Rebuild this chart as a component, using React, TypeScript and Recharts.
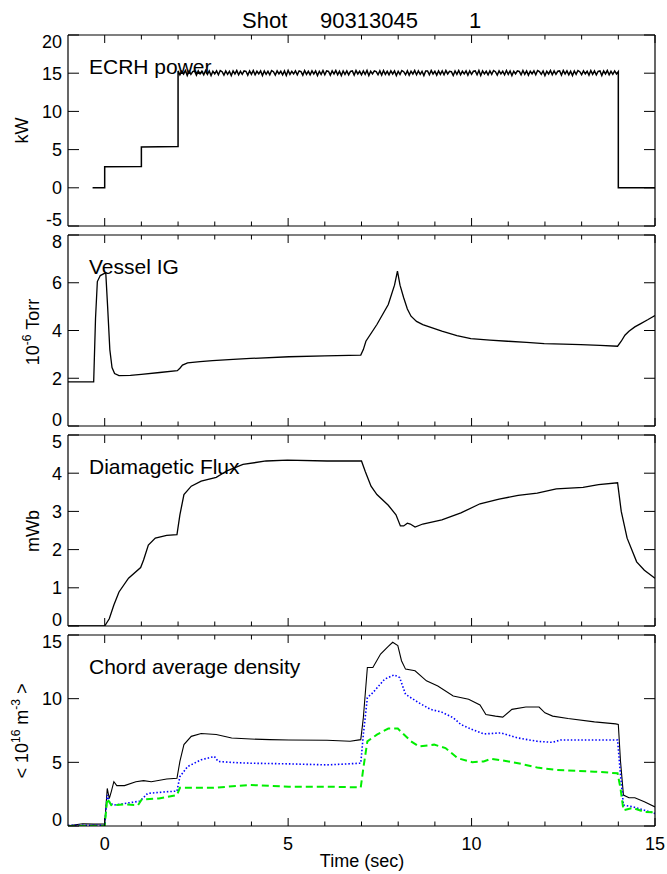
import React from "react";
import { LineChart, Line, XAxis, YAxis } from "recharts";

const FONT = "'Liberation Sans', Arial, Helvetica, sans-serif";

// ---------- data ----------
const xTicks = [0, 1, 2, 3, 4, 5, 6, 7, 8, 9, 10, 11, 12, 13, 14, 15];

const ecrhTicks = [-5, 0, 5, 10, 15, 20];
const igTicks = [0, 2, 4, 6, 8];
const fluxTicks = [0, 1, 2, 3, 4, 5];
const densTicks = [0, 5, 10, 15];

// ECRH power steps before flat top [t, kW]
const ecrhRampUp: [number, number][] = [
  [-0.33, 0], [0, 0], [0, 2.75], [1, 2.8], [1, 5.35], [2, 5.4],
];
// flat top noise samples from t = 2.00 to 14.00, every 0.05 s
const ecrhFlatStart = 2;
const ecrhFlatStep = 0.05;
const ecrhFlat: number[] = [
  15.3,14.8,15.25,14.9,15.35,14.7,15.3,14.85,15.2,15.3,14.75,15.3,14.9,15.25,14.8,15.35,14.85,15.3,14.7,15.25,
  14.9,15.3,14.8,15.35,15.2,14.75,15.3,14.85,15.25,14.7,15.3,14.9,15.35,14.8,15.25,14.85,15.3,15.25,14.75,15.3,
  14.85,15.35,14.8,15.25,14.9,15.3,14.7,15.3,14.85,15.25,14.8,15.35,15.2,14.75,15.3,14.9,15.25,14.8,15.3,14.7,
  15.35,14.85,15.25,14.9,15.3,14.8,15.3,15.2,14.75,15.35,14.85,15.25,14.8,15.3,14.9,15.3,14.7,15.25,14.85,15.35,
  14.8,15.3,15.25,14.75,15.3,14.9,15.35,14.8,15.25,14.7,15.3,14.85,15.3,14.8,15.25,15.3,14.75,15.35,14.9,15.25,
  14.8,15.3,14.85,15.35,14.7,15.25,14.9,15.3,15.2,14.8,15.3,14.75,15.35,14.85,15.25,14.8,15.3,14.9,15.3,14.7,
  15.25,14.85,15.35,15.2,14.8,15.3,14.75,15.25,14.9,15.35,14.8,15.3,14.85,15.25,14.7,15.3,15.3,14.8,15.35,14.9,
  15.25,14.75,15.3,14.85,15.3,14.8,15.35,14.9,15.25,15.2,14.7,15.3,14.85,15.35,14.8,15.25,14.9,15.3,14.75,15.3,
  14.85,15.25,15.3,14.8,15.35,14.7,15.3,14.9,15.25,14.8,15.3,14.85,15.35,15.2,14.75,15.3,14.9,15.25,14.8,15.35,
  14.85,15.3,14.7,15.25,14.9,15.3,15.25,14.8,15.35,14.85,15.3,14.75,15.25,14.9,15.3,14.8,15.35,15.2,14.85,15.3,
  14.7,15.25,14.9,15.35,14.8,15.3,14.85,15.25,15.3,14.75,15.35,14.9,15.3,14.8,15.25,14.7,15.3,14.85,15.35,15.2,
  14.8,15.3,14.9,15.25,14.75,15.35,14.85,15.3,14.8,15.25,15.3,14.7,15.3,14.9,15.35,14.8,15.25,14.85,15.3,14.9,
  15.2,
];
const ecrhRampDown: [number, number][] = [[14, 0], [15, 0]];

// Vessel ion gauge [t, 1e-6 Torr]
const vesselIG: [number, number][] = [
  [-1, 1.85], [-0.3, 1.85], [-0.25, 4.5], [-0.2, 6.05], [-0.12, 6.3], [-0.02, 6.38], [0.03, 6.4],
  [0.08, 5.0], [0.14, 3.2], [0.2, 2.45], [0.27, 2.2], [0.39, 2.11], [0.7, 2.12], [1.0, 2.16],
  [1.5, 2.24], [1.98, 2.32], [2.05, 2.42], [2.12, 2.55], [2.26, 2.64], [2.6, 2.7], [2.94, 2.74],
  [3.5, 2.79], [3.98, 2.83], [5.02, 2.9], [6, 2.94], [6.98, 2.97], [7.05, 3.2], [7.12, 3.55],
  [7.42, 4.25], [7.73, 5.09], [7.9, 5.9], [7.98, 6.49], [8.05, 5.9], [8.15, 5.37], [8.25, 4.9],
  [8.35, 4.6], [8.5, 4.38], [8.67, 4.25], [9.19, 3.97], [9.6, 3.79], [9.98, 3.66], [10.5, 3.6],
  [10.98, 3.55], [11.5, 3.5], [11.98, 3.45], [12.5, 3.43], [12.98, 3.41], [13.5, 3.38],
  [13.98, 3.34], [14.08, 3.55], [14.18, 3.8], [14.29, 3.97], [14.45, 4.15], [14.6, 4.28],
  [14.8, 4.45], [15, 4.63],
];

// Diamagnetic flux [t, mWb]
const diaFlux: [number, number][] = [
  [-1, 0], [0, 0], [0.125, 0.19], [0.25, 0.55], [0.39, 0.89], [0.65, 1.25], [0.98, 1.53],
  [1.06, 1.73], [1.19, 2.12], [1.38, 2.3], [1.69, 2.37], [1.97, 2.39], [2.05, 2.91],
  [2.16, 3.44], [2.36, 3.66], [2.63, 3.79], [3.04, 3.89], [3.35, 4.07], [3.77, 4.23],
  [4.4, 4.32], [4.98, 4.34], [6.06, 4.32], [7.0, 4.32], [7.1, 4.05], [7.26, 3.66],
  [7.42, 3.44], [7.73, 3.16], [7.94, 2.91], [8.06, 2.62], [8.15, 2.62], [8.25, 2.69],
  [8.33, 2.67], [8.46, 2.59], [8.67, 2.67], [9.19, 2.78], [9.71, 2.96], [10.23, 3.2],
  [10.75, 3.32], [11.27, 3.42], [11.79, 3.48], [12.31, 3.59], [13.04, 3.63], [13.46, 3.7],
  [13.98, 3.75], [14.08, 3.0], [14.24, 2.3], [14.5, 1.68], [14.71, 1.46], [15, 1.25],
];

// Chord average density [t, 1e16 m^-3]
const densBlack: [number, number][] = [
  [-1, 0.02], [-0.8, 0.1], [-0.6, 0.18], [-0.3, 0.15], [0, 0.16], [0.07, 2.95], [0.125, 2.16],
  [0.18, 2.7], [0.25, 3.48], [0.33, 3.17], [0.54, 3.17], [0.85, 3.48], [1.06, 3.56],
  [1.27, 3.48], [1.69, 3.69], [1.97, 3.75], [2.05, 5.07], [2.16, 6.39], [2.36, 7.04],
  [2.63, 7.26], [3.04, 7.18], [3.46, 6.91], [3.98, 6.83], [4.5, 6.78], [5.02, 6.75],
  [6.06, 6.73], [6.69, 6.65], [6.98, 6.78], [7.05, 8.5], [7.16, 12.45], [7.31, 12.45],
  [7.52, 13.5], [7.73, 14.1], [7.85, 14.43], [7.99, 14.17], [8.09, 12.98], [8.2, 12.32],
  [8.46, 12.19], [8.77, 11.4], [9.08, 11.0], [9.5, 10.21], [9.92, 9.95], [10.23, 9.5],
  [10.39, 8.76], [10.65, 8.63], [10.85, 8.55], [11.1, 9.16], [11.48, 9.34], [11.84, 9.34],
  [12.0, 8.89], [12.21, 8.63], [12.63, 8.44], [13.35, 8.18], [13.93, 8.02], [14.0, 7.97],
  [14.06, 5.07], [14.14, 2.43], [14.29, 2.22], [14.45, 2.22], [14.71, 1.9], [15, 1.5],
];
const densBlue: [number, number][] = [
  [-1, 0.05], [0, 0.05], [0.07, 2.43], [0.125, 1.9], [0.23, 1.64], [0.54, 1.77], [0.96, 1.95],
  [1.17, 2.56], [1.69, 2.69], [1.97, 2.74], [2.05, 3.88], [2.26, 4.67], [2.63, 5.2],
  [2.99, 5.46], [3.09, 5.07], [3.46, 4.99], [3.98, 4.93], [5.02, 4.88], [6.06, 4.8],
  [6.98, 4.93], [7.05, 7.18], [7.16, 10.08], [7.31, 10.47], [7.63, 11.53], [7.89, 11.87],
  [8.04, 11.66], [8.2, 10.34], [8.56, 9.68], [8.88, 9.16], [9.19, 8.94], [9.5, 8.5],
  [9.71, 7.97], [10.02, 7.57], [10.33, 7.23], [10.8, 7.31], [11.27, 6.91], [11.79, 6.65],
  [12.21, 6.57], [12.42, 6.75], [13.35, 6.75], [13.98, 6.75], [14.06, 4.0], [14.14, 1.64],
  [14.4, 1.5], [14.71, 1.24], [15, 0.98],
];
const densGreen: [number, number][] = [
  [-1, 0], [0, 0], [0.07, 2.16], [0.18, 1.64], [0.54, 1.69], [0.91, 1.64], [1.01, 2.08],
  [1.48, 2.16], [1.97, 2.43], [2.05, 3.0], [2.94, 3.0], [3.98, 3.22], [5.02, 3.09],
  [6.06, 3.09], [6.98, 3.03], [7.05, 4.54], [7.16, 6.65], [7.42, 7.18], [7.73, 7.65],
  [7.99, 7.65], [8.35, 6.65], [8.56, 6.25], [8.98, 6.39], [9.29, 6.12], [9.62, 5.33],
  [10.02, 5.01], [10.33, 5.07], [10.54, 5.28], [10.85, 5.15], [11.27, 4.93], [11.79, 4.59],
  [12.31, 4.41], [13.35, 4.27], [13.98, 4.14], [14.06, 2.95], [14.14, 1.24], [14.4, 1.42],
  [14.71, 1.11], [15, 1.06],
];

// ---------- build tables ----------
const ecrhData = [
  ...ecrhRampUp.map(([t, v]) => ({ t, v })),
  ...ecrhFlat.map((v, i) => ({ t: +(ecrhFlatStart + i * ecrhFlatStep).toFixed(2), v })),
  ...ecrhRampDown.map(([t, v]) => ({ t, v })),
];
const igData = vesselIG.map(([t, v]) => ({ t, v }));
const fluxData = diaFlux.map(([t, v]) => ({ t, v }));
const densData = [
  ...densBlack.map(([t, v]) => ({ t, k: v })),
  ...densBlue.map(([t, v]) => ({ t, b: v })),
  ...densGreen.map(([t, v]) => ({ t, g: v })),
].sort((a, b) => a.t - b.t);

// ---------- ticks ----------
const BottomTick = (p: any) => {
  const { x, y, payload, showLabel } = p;
  const major = payload.value % 5 === 0;
  return (
    <g>
      <line x1={x} y1={y} x2={x} y2={y - (major ? 8 : 4.5)} stroke="#000" strokeWidth={1} />
      {showLabel && major ? (
        <text x={x} y={y + 24} textAnchor="middle" fontSize={18} fontFamily={FONT} fill="#000">
          {payload.value}
        </text>
      ) : null}
    </g>
  );
};
const TopTick = (p: any) => {
  const { x, y, payload } = p;
  const major = payload.value % 5 === 0;
  return <line x1={x} y1={y} x2={x} y2={y + (major ? 8 : 4.5)} stroke="#000" strokeWidth={1} />;
};
const LeftTick = (p: any) => {
  const { x, y, payload, ymin, ymax } = p;
  // labels at the panel edges are kept inside the panel, as in the original
  let ty = y + 6.5;
  if (payload.value === ymax) ty = y + 13;
  else if (payload.value === ymin) ty = y;
  return (
    <g>
      <line x1={x} y1={y} x2={x + 11} y2={y} stroke="#000" strokeWidth={1} />
      <text x={x - 6} y={ty} textAnchor="end" fontSize={18} fontFamily={FONT} fill="#000">
        {payload.value}
      </text>
    </g>
  );
};
const RightTick = (p: any) => {
  const { x, y } = p;
  return <line x1={x} y1={y} x2={x - 11} y2={y} stroke="#000" strokeWidth={1} />;
};

const axisLine = { stroke: "#000", strokeWidth: 1.2 };

type LineSpec = { key: string; color: string; width: number; dash?: string };

function Panel(props: {
  top: number;
  data: any[];
  lines: LineSpec[];
  domain: [number, number];
  yTicks: number[];
  showXLabels?: boolean;
}) {
  const mt = 14;
  const plotH = 191;
  const mb = props.showXLabels ? 34 : 14;
  const [ymin, ymax] = props.domain;
  // axes are 1px thick (a 0-size axis is not drawn), so margins are 1px smaller
  return (
    <div style={{ position: "absolute", left: 0, top: props.top - mt }}>
      <LineChart
        width={667}
        height={mt + plotH + mb}
        data={props.data}
        margin={{ top: mt - 1, right: 11, bottom: mb - 1, left: 67 }}
      >
        <XAxis
          xAxisId="b"
          dataKey="t"
          type="number"
          domain={[-1, 15]}
          ticks={xTicks}
          interval={0}
          height={1}
          tickSize={0}
          tickMargin={0}
          tickLine={false}
          axisLine={axisLine}
          allowDataOverflow
          tick={(p: any) => <BottomTick {...p} showLabel={props.showXLabels} />}
        />
        <XAxis
          xAxisId="t"
          orientation="top"
          dataKey="t"
          type="number"
          domain={[-1, 15]}
          ticks={xTicks}
          interval={0}
          height={1}
          tickSize={0}
          tickMargin={0}
          tickLine={false}
          axisLine={axisLine}
          allowDataOverflow
          tick={(p: any) => <TopTick {...p} />}
        />
        <YAxis
          yAxisId="l"
          type="number"
          domain={props.domain}
          ticks={props.yTicks}
          interval={0}
          width={1}
          tickSize={0}
          tickMargin={0}
          tickLine={false}
          axisLine={axisLine}
          allowDataOverflow
          tick={(p: any) => <LeftTick {...p} ymin={ymin} ymax={ymax} />}
        />
        <YAxis
          yAxisId="r"
          orientation="right"
          type="number"
          domain={props.domain}
          ticks={props.yTicks}
          interval={0}
          width={1}
          tickSize={0}
          tickMargin={0}
          tickLine={false}
          axisLine={axisLine}
          allowDataOverflow
          tick={(p: any) => <RightTick {...p} />}
        />
        {props.lines.map((l) => (
          <Line
            key={l.key}
            xAxisId="b"
            yAxisId="l"
            type="linear"
            dataKey={l.key}
            stroke={l.color}
            strokeWidth={l.width}
            strokeDasharray={l.dash}
            dot={false}
            activeDot={false}
            connectNulls
            isAnimationActive={false}
          />
        ))}
      </LineChart>
    </div>
  );
}

const txt = { fontFamily: FONT, fill: "#000" };

export default function App() {
  return (
    <div style={{ position: "absolute", left: 0, top: 0, width: 667, height: 874, background: "#fff" }}>
      <Panel top={35} data={ecrhData} domain={[-5, 20]} yTicks={ecrhTicks}
        lines={[{ key: "v", color: "#000", width: 1.5 }]} />
      <Panel top={235} data={igData} domain={[0, 8]} yTicks={igTicks}
        lines={[{ key: "v", color: "#000", width: 1.3 }]} />
      <Panel top={435} data={fluxData} domain={[0, 5]} yTicks={fluxTicks}
        lines={[{ key: "v", color: "#000", width: 1.3 }]} />
      <Panel top={635} data={densData} domain={[0, 15]} yTicks={densTicks} showXLabels
        lines={[
          { key: "k", color: "#000", width: 1.1 },
          { key: "b", color: "#0000ff", width: 1.6, dash: "1.5 2" },
          { key: "g", color: "#00ee00", width: 2, dash: "7 4" },
        ]} />
      <svg width={667} height={874} style={{ position: "absolute", left: 0, top: 0, pointerEvents: "none" }}>
        <text x={242} y={28} fontSize={22} {...txt}>Shot</text>
        <text x={320} y={28} fontSize={22} {...txt}>90313045</text>
        <text x={469} y={28} fontSize={22} {...txt}>1</text>

        <text x={89} y={74} fontSize={21} {...txt}>ECRH power</text>
        <text x={89} y={274} fontSize={21} {...txt}>Vessel IG</text>
        <text x={89} y={474} fontSize={21} {...txt}>Diamagetic Flux</text>
        <text x={89} y={674} fontSize={21} {...txt}>Chord average density</text>

        <text transform="translate(28,130.5) rotate(-90)" textAnchor="middle" fontSize={18} {...txt}>kW</text>
        <text transform="translate(39,332) rotate(-90)" textAnchor="middle" fontSize={18} {...txt}>
          10<tspan fontSize={12} dy={-8}>-6</tspan><tspan dy={8}> Torr</tspan>
        </text>
        <text transform="translate(39,531) rotate(-90)" textAnchor="middle" fontSize={18} {...txt}>mWb</text>
        <text transform="translate(28,731) rotate(-90)" textAnchor="middle" fontSize={18} {...txt}>
          {"< 10"}<tspan fontSize={12} dy={-8}>16</tspan><tspan dy={8}> m</tspan><tspan fontSize={12} dy={-8}>-3</tspan><tspan dy={8}>{" >"}</tspan>
        </text>

        <text x={362} y={867} textAnchor="middle" fontSize={18} {...txt}>Time (sec)</text>
      </svg>
    </div>
  );
}
